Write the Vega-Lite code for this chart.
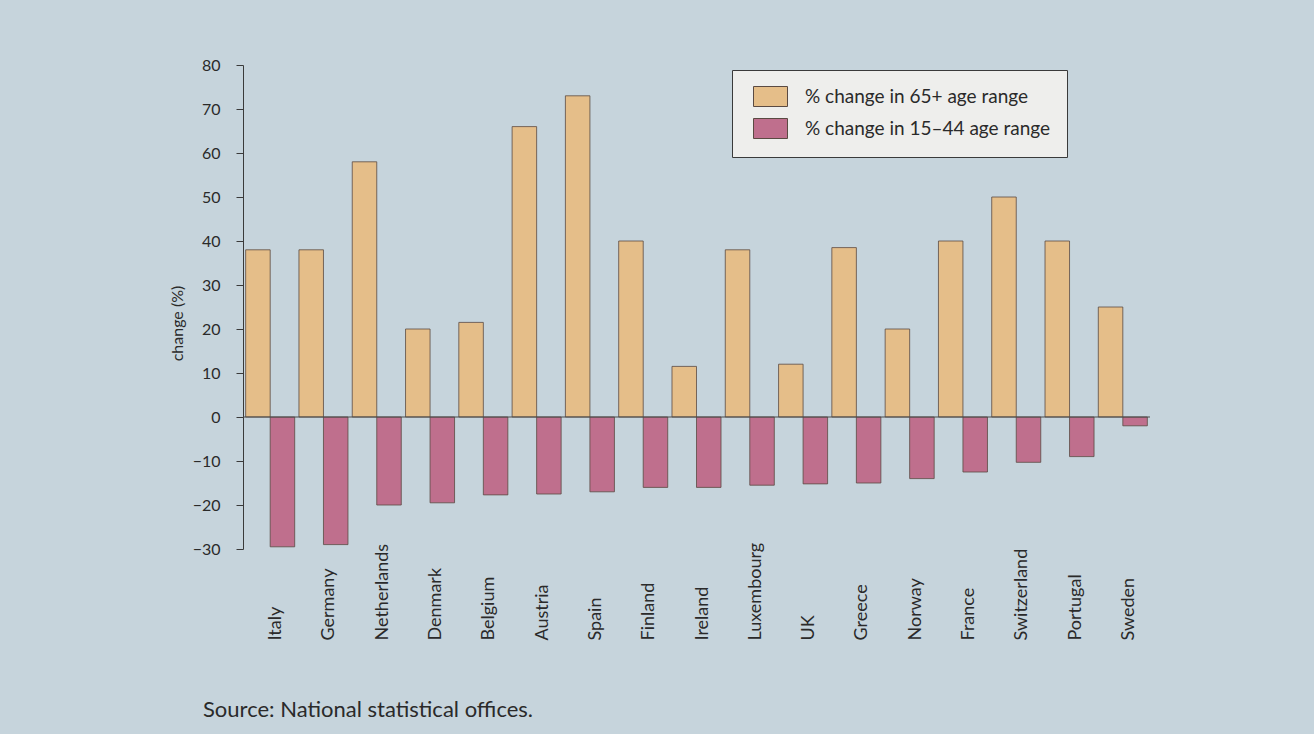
{
  "$schema": "https://vega.github.io/schema/vega-lite/v6.json",
  "autosize": {"type": "none"},
  "padding": {"left": 243, "top": 65, "right": 164, "bottom": 185},
  "width": 907,
  "height": 484,
  "background": "#c6d4dc",
  "title": {
    "text": "Source: National statistical offices.",
    "orient": "bottom",
    "anchor": "start",
    "frame": "group",
    "dx": -40,
    "offset": 60,
    "font": "Lato",
    "fontSize": 22,
    "fontWeight": "normal",
    "color": "#2a2a2a"
  },
  "config": {
    "view": {"stroke": null},
    "font": "Lato"
  },
  "layer": [
    {
      "data": {
        "values": [
          {"country": "Italy", "series": "% change in 65+ age range", "value": 38},
          {"country": "Italy", "series": "% change in 15–44 age range", "value": -29.5},
          {"country": "Germany", "series": "% change in 65+ age range", "value": 38},
          {"country": "Germany", "series": "% change in 15–44 age range", "value": -29},
          {"country": "Netherlands", "series": "% change in 65+ age range", "value": 58},
          {"country": "Netherlands", "series": "% change in 15–44 age range", "value": -20},
          {"country": "Denmark", "series": "% change in 65+ age range", "value": 20},
          {"country": "Denmark", "series": "% change in 15–44 age range", "value": -19.5},
          {"country": "Belgium", "series": "% change in 65+ age range", "value": 21.5},
          {"country": "Belgium", "series": "% change in 15–44 age range", "value": -17.7},
          {"country": "Austria", "series": "% change in 65+ age range", "value": 66},
          {"country": "Austria", "series": "% change in 15–44 age range", "value": -17.5},
          {"country": "Spain", "series": "% change in 65+ age range", "value": 73},
          {"country": "Spain", "series": "% change in 15–44 age range", "value": -17},
          {"country": "Finland", "series": "% change in 65+ age range", "value": 40},
          {"country": "Finland", "series": "% change in 15–44 age range", "value": -16},
          {"country": "Ireland", "series": "% change in 65+ age range", "value": 11.5},
          {"country": "Ireland", "series": "% change in 15–44 age range", "value": -16},
          {"country": "Luxembourg", "series": "% change in 65+ age range", "value": 38},
          {"country": "Luxembourg", "series": "% change in 15–44 age range", "value": -15.5},
          {"country": "UK", "series": "% change in 65+ age range", "value": 12},
          {"country": "UK", "series": "% change in 15–44 age range", "value": -15.2},
          {"country": "Greece", "series": "% change in 65+ age range", "value": 38.5},
          {"country": "Greece", "series": "% change in 15–44 age range", "value": -15},
          {"country": "Norway", "series": "% change in 65+ age range", "value": 20},
          {"country": "Norway", "series": "% change in 15–44 age range", "value": -14},
          {"country": "France", "series": "% change in 65+ age range", "value": 40},
          {"country": "France", "series": "% change in 15–44 age range", "value": -12.5},
          {"country": "Switzerland", "series": "% change in 65+ age range", "value": 50},
          {"country": "Switzerland", "series": "% change in 15–44 age range", "value": -10.3},
          {"country": "Portugal", "series": "% change in 65+ age range", "value": 40},
          {"country": "Portugal", "series": "% change in 15–44 age range", "value": -9},
          {"country": "Sweden", "series": "% change in 65+ age range", "value": 25},
          {"country": "Sweden", "series": "% change in 15–44 age range", "value": -2}
        ]
      },
      "mark": {"type": "bar", "stroke": "#5a4a42", "strokeWidth": 0.8},
      "encoding": {
        "x": {
          "field": "country",
          "type": "nominal",
          "sort": null,
          "scale": {"paddingInner": 0.08, "paddingOuter": 0.05},
          "axis": {
            "title": null,
            "domain": false,
            "ticks": false,
            "labelAngle": 270,
            "labelAlign": "left",
            "labelBaseline": "middle",
            "labelPadding": 91,
            "labelOffset": 6,
            "labelFont": "Lato",
            "labelFontSize": 18,
            "labelColor": "#2a2a2a"
          }
        },
        "xOffset": {
          "field": "series",
          "type": "nominal",
          "sort": ["% change in 65+ age range", "% change in 15–44 age range"]
        },
        "y": {
          "field": "value",
          "type": "quantitative",
          "scale": {"domain": [-30, 80], "nice": false},
          "axis": {
            "title": "change (%)",
            "titleFont": "Lato",
            "titleFontSize": 16,
            "titleFontWeight": "normal",
            "titleColor": "#2a2a2a",
            "titleX": -66,
            "titleY": 258,
            "titleAngle": 270,
            "titleAlign": "center",
            "titleBaseline": "middle",
            "values": [-30, -20, -10, 0, 10, 20, 30, 40, 50, 60, 70, 80],
            "grid": false,
            "domainColor": "#3a3a3a",
            "tickColor": "#3a3a3a",
            "tickSize": 7,
            "labelPadding": 16,
            "labelFont": "Lato",
            "labelFontSize": 16,
            "labelColor": "#2a2a2a"
          }
        },
        "color": {
          "field": "series",
          "type": "nominal",
          "scale": {
            "domain": ["% change in 65+ age range", "% change in 15–44 age range"],
            "range": ["#e5be89", "#bf6f8d"]
          },
          "legend": {
            "title": null,
            "orient": "none",
            "legendX": 489,
            "legendY": 5,
            "fillColor": "#eeeeec",
            "strokeColor": "#3a3a3a",
            "padding": 16,
            "symbolType": "M-1.7,-1H1.7V1H-1.7Z",
            "symbolSize": 400,
            "symbolStrokeColor": "#5a4a42",
            "symbolStrokeWidth": 1,
            "symbolOpacity": 1,
            "symbolOffset": 12,
            "labelOffset": 24,
            "labelLimit": 400,
            "rowPadding": 7,
            "labelFont": "Lato",
            "labelFontSize": 19,
            "labelColor": "#2a2a2a"
          }
        }
      }
    },
    {
      "data": {"values": [{}]},
      "mark": {"type": "rule", "color": "#4a4a4a", "strokeWidth": 1},
      "encoding": {"y": {"datum": 0}}
    }
  ]
}
